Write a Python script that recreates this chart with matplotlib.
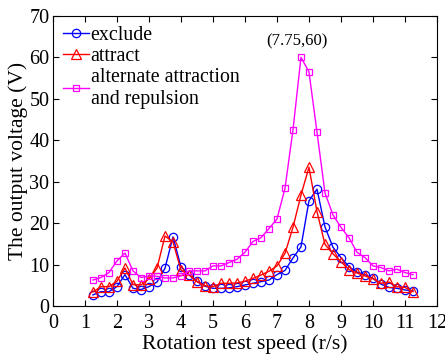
import matplotlib
matplotlib.use('Agg')
import matplotlib.pyplot as plt
import numpy as np

# rotation speed (r/s), 0.25 steps from 1.25 to 11.25
speed = [1.25, 1.5, 1.75, 2.0, 2.25, 2.5, 2.75, 3.0, 3.25, 3.5, 3.75,
         4.0, 4.25, 4.5, 4.75, 5.0, 5.25, 5.5, 5.75, 6.0, 6.25,
         6.5, 6.75, 7.0, 7.25, 7.5, 7.75, 8.0, 8.25, 8.5, 8.75,
         9.0, 9.25, 9.5, 9.75, 10.0, 10.25, 10.5, 10.75, 11.0, 11.25]

exclude = [2.7, 3.5, 3.5, 4.7, 7.6, 4.3, 4.0, 4.7, 5.8, 9.1, 16.7,
           9.5, 7.6, 6.0, 4.8, 4.3, 4.3, 4.4, 4.7, 5.1, 5.5,
           5.9, 6.3, 7.6, 8.6, 11.6, 14.3, 25.4, 28.2, 19.1, 14.2,
           11.7, 9.5, 8.2, 7.6, 6.7, 5.3, 4.5, 4.3, 3.9, 3.7]

attract = [3.4, 4.7, 4.7, 6.0, 9.2, 5.2, 5.1, 6.6, 9.1, 16.9, 15.5,
           8.7, 7.5, 5.9, 4.9, 4.7, 5.5, 5.5, 5.6, 6.0, 6.7,
           7.5, 8.4, 9.7, 12.7, 19.0, 26.8, 33.5, 22.8, 14.9, 12.6,
           10.7, 8.8, 8.0, 7.3, 6.6, 5.5, 5.8, 4.7, 4.5, 3.5]

alternate = [6.3, 6.9, 8.1, 10.9, 12.8, 8.5, 6.9, 7.3, 7.2, 6.8, 6.8,
             7.3, 8.5, 8.5, 8.5, 9.7, 9.7, 10.5, 11.3, 13.0, 15.6,
             16.5, 18.7, 21.0, 28.4, 42.5, 60.0, 56.5, 42.0, 27.3, 22.0,
             19.0, 16.5, 13.0, 11.7, 9.7, 9.3, 8.5, 8.9, 8.1, 7.6]

plt.rcParams['font.family'] = ['Liberation Serif', 'DejaVu Serif']

fig = plt.figure(figsize=(4.45, 3.61), dpi=100)
ax = fig.add_axes([0.119, 0.152, 0.863, 0.804])

ax.plot(speed, exclude, '-o', color='#0000ff', lw=1, ms=6, mfc='none',
        mew=0.9, label='exclude')
ax.plot(speed, attract, '-^', color='#ff0000', lw=1, ms=7, mfc='none',
        mew=0.9, label='attract')
ax.plot(speed, alternate, '-s', color='#ff00ff', lw=1, ms=5, mfc='none',
        mew=0.9, label='alternate attraction\nand repulsion')

ax.annotate('(7.75,60)', xy=(7.75, 60), xytext=(-3, 6),
            textcoords='offset points', ha='center', va='bottom', fontsize=12)

ax.set_xlim(0, 12)
ax.set_ylim(0, 70)
ax.set_xticks(np.arange(0, 13, 1))
ax.set_yticks(np.arange(0, 71, 10))
ax.tick_params(direction='in', top=True, right=True, labelsize=14.5,
               length=4)
ax.tick_params(axis='x', pad=5.5)
ax.tick_params(axis='y', pad=2.5)
ax.set_xlabel('Rotation test speed (r/s)', fontsize=15.5, labelpad=1)
ax.set_ylabel('The output voltage (V)', fontsize=15.5, labelpad=1)

ax.legend(loc='upper left', frameon=False, fontsize=14.3, handlelength=1.3,
          handletextpad=0.1, borderaxespad=0.1, labelspacing=0.1)

fig.savefig('out.png', dpi=100)
